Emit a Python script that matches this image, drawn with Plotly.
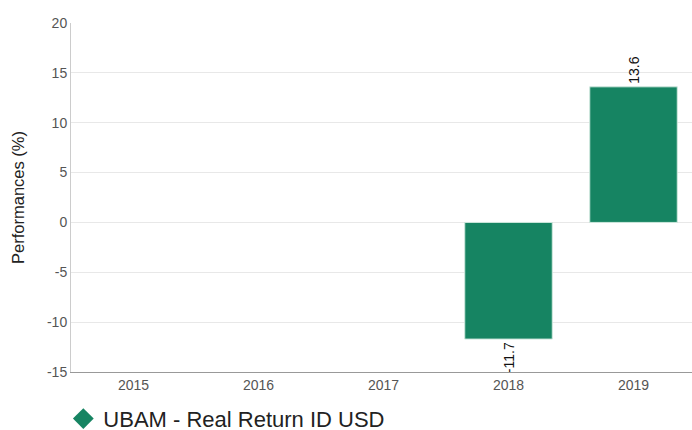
import plotly.graph_objects as go

years = ["2015", "2016", "2017", "2018", "2019"]
values = [None, None, None, -11.7, 13.6]
labels = ["", "", "", "-11.7", "13.6"]
ytick_vals = [-15, -10, -5, 0, 5, 10, 15, 20]
ytick_text = ["-15", "-10", "-5", "0", "5", "10", "15", "20"]
series_name = "UBAM - Real Return ID USD"
color = "#168462"

fig = go.Figure()
fig.add_trace(go.Bar(
    x=years, y=values, text=labels, textposition="outside", textangle=-90,
    textfont=dict(family="Liberation Sans, Arial, sans-serif", size=14, color="#111"),
    marker=dict(color=color, line=dict(color="#cfe8de", width=1)),
    width=0.7, showlegend=False, cliponaxis=False,
))
fig.add_trace(go.Scatter(
    x=[None], y=[None], mode="markers", name=series_name,
    marker=dict(symbol="diamond", size=22, color=color),
))
fig.update_layout(
    width=692, height=430,
    margin=dict(l=71, r=0, t=23, b=58),
    paper_bgcolor="white", plot_bgcolor="white",
    font=dict(family="Liberation Sans, Arial, sans-serif"),
    showlegend=True,
    legend=dict(x=0.0915, xref="container", xanchor="left",
                y=0.026, yref="container", yanchor="middle", orientation="h",
                bgcolor="rgba(0,0,0,0)",
                font=dict(size=22, color="#222"), itemsizing="trace", borderwidth=0),
    xaxis=dict(type="category", range=[-0.5, 4.468], showgrid=False, automargin=False,
               showline=True, linecolor="#999", linewidth=1,
               tickfont=dict(size=14, color="#555"), ticks=""),
    yaxis=dict(range=[-15, 20], tickmode="array", tickvals=ytick_vals, ticktext=ytick_text,
               showgrid=True, gridcolor="#e8e8e8", automargin=False,
               zeroline=True, zerolinecolor="#e8e8e8", zerolinewidth=1,
               showline=True, linecolor="#ccc", linewidth=1,
               tickfont=dict(size=14, color="#555"),
               title=dict(text="Performances (%)", font=dict(size=16.5, color="#222"), standoff=18)),
)
fig.write_html("out.html", config={"displayModeBar": False},
               post_script="document.body.style.margin='0';document.body.style.overflow='hidden';")
